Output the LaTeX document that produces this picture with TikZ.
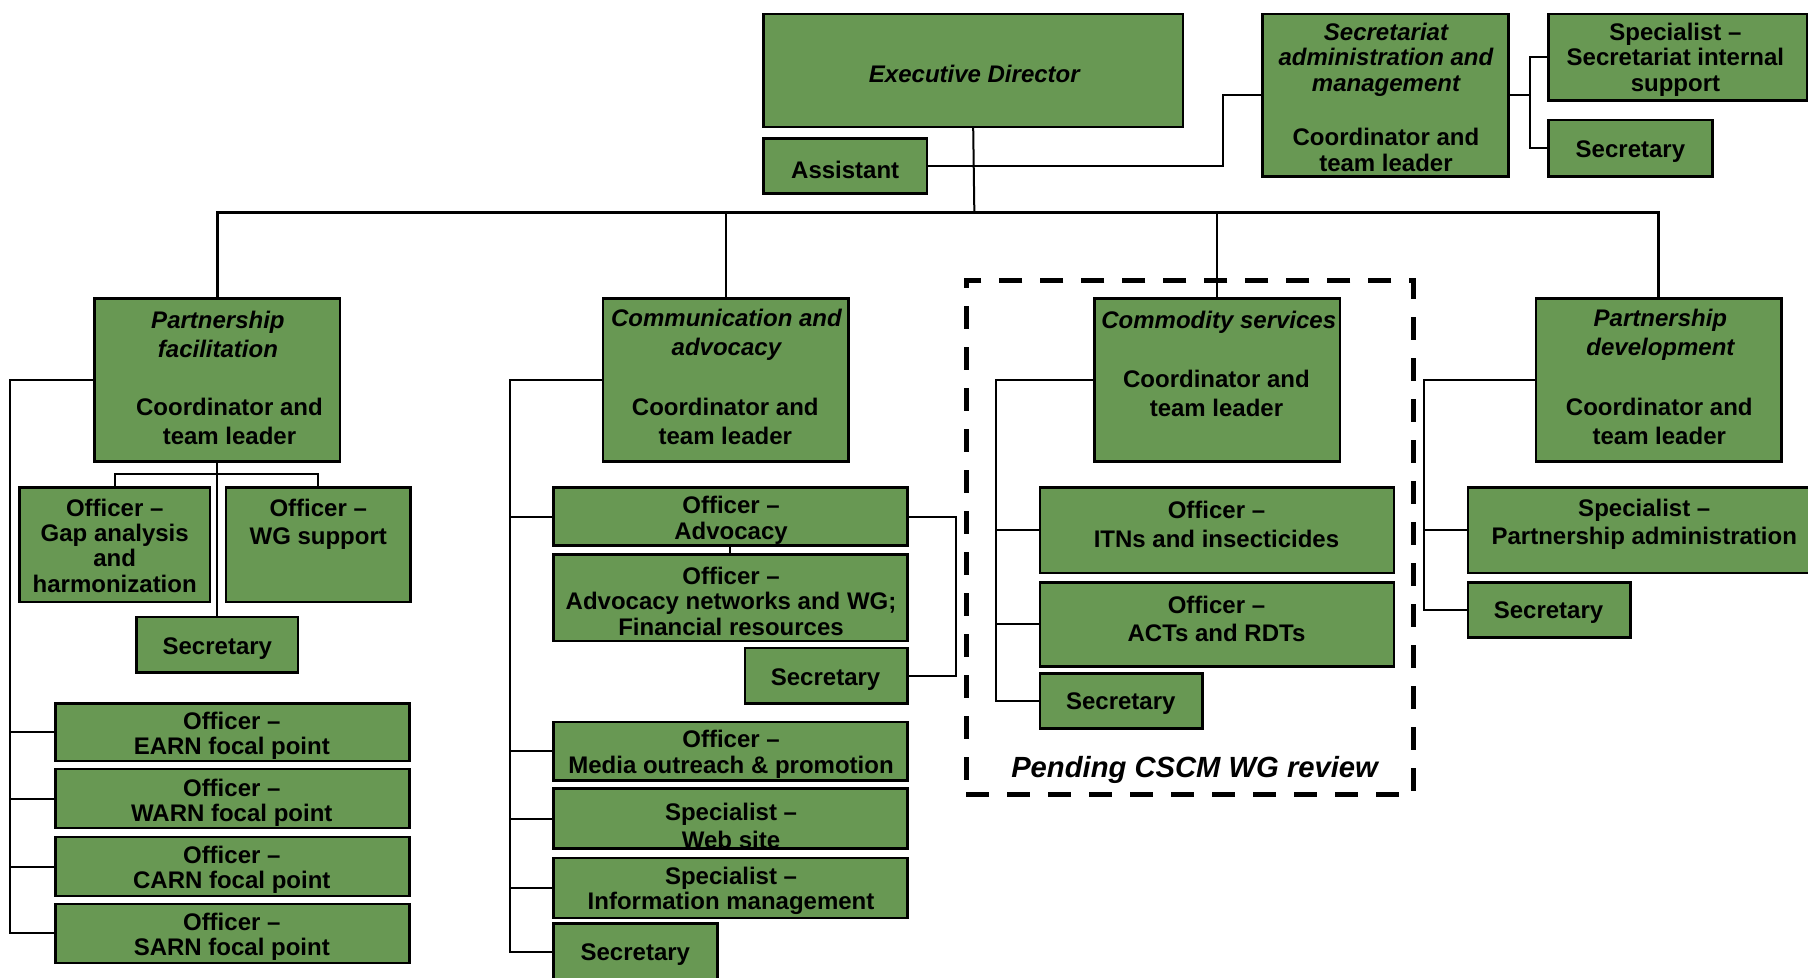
\documentclass[tikz,border=0pt]{standalone}
\usepackage{fontspec}
\setmainfont{Liberation Sans}
\definecolor{boxgreen}{RGB}{104,152,83}
% one drawing unit in points
\newcommand\pxu{0.57655pt}
% \orgbox{name}{x1}{y1}{x2}{y2}: filled box given by its corners
\newcommand\orgbox[5]{%
  \node[box, minimum width={(#4-#2)*\pxu}, minimum height={(#5-#3)*\pxu}]
    (#1) at ({(#2+#4)/2},{(#3+#5)/2}) {};}
\tikzset{
  box/.style={draw=black, line width=1.3pt, fill=boxgreen, inner sep=0pt, outer sep=0pt},
  txt/.style={font=\bfseries\fontsize{12}{12.7}\selectfont, align=center, inner sep=0pt, yshift=-1.3pt},
  txtw/.style={font=\bfseries\fontsize{12}{14.4}\selectfont, align=center, inner sep=0pt, yshift=-1.3pt},
  headt/.style={font=\bfseries\itshape\fontsize{12}{14.4}\selectfont, align=center, inner sep=0pt, yshift=-1pt},
  conn/.style={draw=black, line width=1pt},
  busline/.style={draw=black, line width=1.4pt},
  pendframe/.style={draw=black, line width=2.6pt, dash pattern=on 11.5pt off 9pt, inner sep=0pt},
  pendlabel/.style={font=\bfseries\itshape\fontsize{14.6}{17}\selectfont, inner sep=0pt, yshift=-1.5pt}
}
\begin{document}
\begin{tikzpicture}[x=0.57655pt, y=-0.57655pt]
\useasboundingbox (0,0) rectangle (1568,848);

% ---------- top level ----------
\orgbox{ed}{662}{12}{1026}{110}
\node[headt] (ed-t) at (845,62) {Executive Director};
\orgbox{asst}{662}{120}{804}{168}
\node[txt] (asst-t) at (733,145) {Assistant};

\orgbox{sa}{1095}{12}{1308}{153}
\node[txt, font=\bfseries\itshape\fontsize{12}{12.9}\selectfont] (sa-t1) at (1202,49.5)
  {Secretariat\\administration and\\management};
\node[txt, font=\bfseries\fontsize{12}{12.9}\selectfont] (sa-t2) at (1202,128)
  {Coordinator and\\team leader};
\orgbox{ssi}{1343}{12}{1567}{87}
\node[txt] (ssi-t) at (1453,49.5) {Specialist –\\Secretariat internal\\support};
\orgbox{sec0}{1343}{104}{1485}{153}
\node[txt] (sec0-t) at (1414,129) {Secretary};

% ---------- Partnership facilitation ----------
\orgbox{pf}{82}{259}{295}{400}
\node[headt] (pf-t1) at (189,288.5) {Partnership\\facilitation};
\node[txtw] (pf-t2) at (199,363.5) {Coordinator and\\team leader};
\orgbox{gap}{17}{423}{182}{522}
\node[txt] (gap-t) at (99.5,471) {Officer –\\Gap analysis\\and\\harmonization};
\orgbox{wg}{196}{423}{356}{522}
\node[txtw] (wg-t) at (276,452.5) {Officer –\\WG support};
\orgbox{psec}{118.5}{535}{258.5}{583}
\node[txt] (psec-t) at (188.5,560) {Secretary};
\orgbox{earn}{48}{610}{355}{660}
\node[txt] (earn-t) at (201,636) {Officer –\\EARN focal point};
\orgbox{warn}{48}{667}{355}{718}
\node[txt] (warn-t) at (201,694) {Officer –\\WARN focal point};
\orgbox{carn}{48}{726}{355}{777}
\node[txt] (carn-t) at (201,752) {Officer –\\CARN focal point};
\orgbox{sarn}{48}{784}{355}{835}
\node[txt] (sarn-t) at (201,810) {Officer –\\SARN focal point};

% ---------- Communication and advocacy ----------
\orgbox{ca}{523}{259}{736}{400}
\node[headt] (ca-t1) at (630,288.5) {Communication and\\advocacy};
\node[txtw] (ca-t2) at (629,363.5) {Coordinator and\\team leader};
\orgbox{adv}{480}{423}{787}{473}
\node[txt] (adv-t) at (634,449) {Officer –\\Advocacy};
\orgbox{advn}{480}{481}{787}{556}
\node[txt] (advn-t) at (634,519) {Officer –\\Advocacy networks and WG;\\Financial resources};
\orgbox{csec1}{646}{562}{787}{610}
\node[txt] (csec1-t) at (716,587) {Secretary};
\orgbox{media}{480}{626}{787}{677}
\node[txt] (media-t) at (634,652) {Officer –\\Media outreach \& promotion};
\orgbox{web}{480}{684}{787}{736}
\node[txt, font=\bfseries\fontsize{12}{13.8}\selectfont] (web-t) at (634,714) {Specialist –\\Web site};
\orgbox{info}{480}{744}{787}{796}
\node[txt] (info-t) at (634,770.5) {Specialist –\\Information management};
\orgbox{csec2}{480}{801}{622}{850}
\node[txt] (csec2-t) at (551,826) {Secretary};

% ---------- Commodity services (pending review) ----------
\node[pendframe, minimum width={388*\pxu}, minimum height={446*\pxu}] (pend) at (1032,466) {};
\node[pendlabel] (pend-t) at (1036,665) {Pending CSCM WG review};
\orgbox{cs}{949}{259}{1162}{400}
\node[headt] (cs-t1) at (1057,277.5) {Commodity services};
\node[txtw] (cs-t2) at (1055,339) {Coordinator and\\team leader};
\orgbox{itn}{902}{423}{1209}{497}
\node[txtw] (itn-t) at (1055,452.5) {Officer –\\ITNs and insecticides};
\orgbox{act}{902}{505}{1209}{578}
\node[txtw] (act-t) at (1055,534.5) {Officer –\\ACTs and RDTs};
\orgbox{ssec}{902}{584}{1043}{632}
\node[txt] (ssec-t) at (972,608) {Secretary};

% ---------- Partnership development ----------
\orgbox{pd}{1332}{259}{1545}{400}
\node[headt] (pd-t1) at (1440,288.5) {Partnership\\development};
\node[txtw] (pd-t2) at (1439,363.5) {Coordinator and\\team leader};
\orgbox{spa}{1273}{423}{1579}{497}
\node[txtw] (spa-t) at (1426,452.5) {Specialist –\\Partnership administration};
\orgbox{psec2}{1273}{505}{1414}{553}
\node[txt] (psec2-t) at (1343,529) {Secretary};

% ---------- connectors ----------
\coordinate (bus) at (845,184);
\draw[conn] (ed.south) -- (bus);
\draw[busline] (pf.north) |- (bus) -| (pd.north);
\draw[conn] (ca.north) -- (ca.north |- bus);
\draw[conn] (cs.north) -- (cs.north |- bus);

\coordinate (sajog) at (1061,0);
\draw[conn] (asst.east) -| (sajog |- sa.west) -- (sa.west);
\coordinate (ssj) at (1327,0);
\draw[conn] (sa.east) -- (ssj |- sa.east);
\draw[conn] (ssi.west) -| (ssj |- sa.east) |- (sec0.west);

% Partnership facilitation team
\draw[conn] (pf.south) -- (psec.north);
\coordinate (pfj) at (188.5,411);
\draw[conn] (gap.north) |- (pfj) -| (wg.north);
\coordinate (pfs) at (9,0);
\draw[conn] (pf.west) -| (pfs |- sarn.west) -- (sarn.west);
\foreach \n in {earn,warn,carn} \draw[conn] (pfs |- \n.west) -- (\n.west);

% Communication and advocacy team
\coordinate (cas) at (442,0);
\draw[conn] (ca.west) -| (cas |- csec2.west) -- (csec2.west);
\foreach \n in {adv,media,web,info} \draw[conn] (cas |- \n.west) -- (\n.west);
\draw[conn] (adv.south) -- (advn.north);
\coordinate (cab) at (829,0);
\draw[conn] (adv.east) -| (cab |- csec1.east) -- (csec1.east);

% Commodity services team
\coordinate (css) at (864,0);
\draw[conn] (cs.west) -| (css |- ssec.west) -- (ssec.west);
\foreach \n in {itn,act} \draw[conn] (css |- \n.west) -- (\n.west);

% Partnership development team
\coordinate (pds) at (1235,0);
\draw[conn] (pd.west) -| (pds |- psec2.west) -- (psec2.west);
\draw[conn] (pds |- spa.west) -- (spa.west);
\end{tikzpicture}
\end{document}
